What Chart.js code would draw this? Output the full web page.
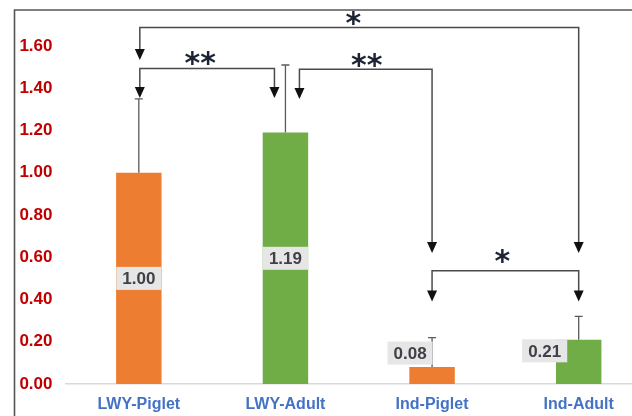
<!DOCTYPE html>
<html><head><meta charset="utf-8">
<script src="https://cdn.jsdelivr.net/npm/chart.js@4/dist/chart.umd.min.js"></script>
<style>html,body{margin:0;padding:0;background:#fff;overflow:hidden;width:632px;height:416px}canvas{display:block}</style>
</head><body><canvas id="c" width="652" height="416"></canvas>
<script>
// ---- data ----
const categories = ['LWY-Piglet', 'LWY-Adult', 'Ind-Piglet', 'Ind-Adult'];
const means = [1.00, 1.19, 0.08, 0.21];
const errors = [0.35, 0.32, 0.14, 0.11];
const valueLabels = ['1.00', '1.19', '0.08', '0.21'];
const barColors = ['#ED7D31', '#70AD47', '#ED7D31', '#70AD47'];
const yTickValues = [0, 0.2, 0.4, 0.6, 0.8, 1.0, 1.2, 1.4, 1.6];
// significance brackets (category index, level and arrow tips in value units)
const bracketLabels = ['*', '**', '**', '*'];
const bracketFrom = [0, 0, 1, 2];
const bracketTo = [3, 1, 2, 3];
const bracketLevel = [1.687, 1.494, 1.490, 0.536];
const bracketLeftTip = [1.534, 1.354, 1.349, 0.390];
const bracketRightTip = [0.620, 1.354, 0.620, 0.390];

// ---- styling (pixel offsets) ----
const legOffsetL = [1, 1, 14, 0];
const legOffsetR = [0, -11, 0, 0];
const starDx = [-6, -7, 1, -3];
const starAbove = [9.4, 10, 9, 14.7];
const labelOffsets = [[0, 0], [0, 0], [-22, -22.5], [-34, -11]];

const decor = {
  id: 'decor',
  afterDatasetsDraw(chart) {
    const ctx = chart.ctx;
    const meta = chart.getDatasetMeta(0);
    const ys = chart.scales.y, xs = chart.scales.x;
    ctx.save();
    // error bars (upper only)
    ctx.strokeStyle = '#5a5a5a';
    ctx.lineWidth = 1.3;
    meta.data.forEach((bar, i) => {
      const top = ys.getPixelForValue(means[i] + errors[i]);
      ctx.beginPath();
      ctx.moveTo(bar.x, bar.y);
      ctx.lineTo(bar.x, top);
      ctx.moveTo(bar.x - 4, top);
      ctx.lineTo(bar.x + 4, top);
      ctx.stroke();
    });
    // value labels
    ctx.font = 'bold 17px "Liberation Sans", Arial, sans-serif';
    ctx.textAlign = 'center';
    ctx.textBaseline = 'middle';
    meta.data.forEach((bar, i) => {
      const cx = bar.x + labelOffsets[i][0];
      const cy = (bar.y + bar.base) / 2 + labelOffsets[i][1];
      const w = ctx.measureText(valueLabels[i]).width + 12;
      const h = 23;
      ctx.fillStyle = '#E7E6E6';
      ctx.fillRect(cx - w / 2, cy - h / 2, w, h);
      ctx.fillStyle = '#404048';
      ctx.fillText(valueLabels[i], cx, cy + 1);
    });
    // brackets
    const arrow = (x, tipY) => {
      ctx.beginPath();
      ctx.moveTo(x - 5, tipY - 11);
      ctx.lineTo(x + 5, tipY - 11);
      ctx.lineTo(x, tipY);
      ctx.closePath();
      ctx.fill();
    };
    ctx.strokeStyle = '#4a4a4a';
    ctx.fillStyle = '#111';
    ctx.lineWidth = 1.5;
    for (let i = 0; i < bracketLabels.length; i++) {
      const xl = xs.getPixelForValue(bracketFrom[i]) + legOffsetL[i];
      const xr = xs.getPixelForValue(bracketTo[i]) + legOffsetR[i];
      const ly = ys.getPixelForValue(bracketLevel[i]);
      const tl = ys.getPixelForValue(bracketLeftTip[i]);
      const tr = ys.getPixelForValue(bracketRightTip[i]);
      ctx.beginPath();
      ctx.moveTo(xl, tl - 8);
      ctx.lineTo(xl, ly);
      ctx.lineTo(xr, ly);
      ctx.lineTo(xr, tr - 8);
      ctx.stroke();
      arrow(xl, tl);
      arrow(xr, tr);
      // asterisks
      ctx.font = 'bold 30px "DejaVu Sans", sans-serif';
      ctx.textAlign = 'center';
      ctx.textBaseline = 'alphabetic';
      const m = ctx.measureText(bracketLabels[i]);
      const cy = ly - starAbove[i];
      const base = cy + (m.actualBoundingBoxAscent - m.actualBoundingBoxDescent) / 2;
      ctx.fillStyle = '#1c2433';
      ctx.fillText(bracketLabels[i], (xl + xr) / 2 + starDx[i], base);
      ctx.fillStyle = '#111';
    }
    // frame
    ctx.strokeStyle = '#555';
    ctx.lineWidth = 1.6;
    ctx.beginPath();
    ctx.moveTo(14.5, 416);
    ctx.lineTo(14.5, 10);
    ctx.lineTo(652, 10);
    ctx.stroke();
    ctx.restore();
  }
};

new Chart(document.getElementById('c'), {
  type: 'bar',
  data: {
    labels: categories,
    datasets: [{
      data: means,
      backgroundColor: barColors,
      borderWidth: 0,
      barPercentage: 0.31,
      categoryPercentage: 1.0
    }]
  },
  options: {
    responsive: false,
    devicePixelRatio: 1,
    animation: false,
    layout: { padding: { top: 3.75, left: 0, right: 0, bottom: 0 } },
    plugins: { legend: { display: false }, tooltip: { enabled: false }, title: { display: false } },
    scales: {
      x: {
        offset: true,
        grid: { display: false, drawTicks: false },
        border: { display: true, color: '#d9d9d9', width: 1.5 },
        ticks: {
          color: '#4472C4',
          padding: 11,
          font: { family: '"Liberation Sans", Arial, sans-serif', weight: 'bold', size: 16 }
        },
        afterFit(s) { s.height = 32; s.paddingLeft = 0; s.paddingRight = 0; }
      },
      y: {
        min: 0,
        max: 1.8,
        grid: { display: false, drawTicks: false },
        border: { display: false },
        afterBuildTicks(s) { s.ticks = yTickValues.map(v => ({ value: v })); },
        ticks: {
          color: '#C00000',
          padding: 13,
          font: { family: '"Liberation Sans", Arial, sans-serif', weight: 'bold', size: 17 },
          callback: (v) => Number(v).toFixed(2)
        },
        afterFit(s) { s.width = 65.5; s.paddingTop = 0; s.paddingBottom = 0; }
      }
    }
  },
  plugins: [decor]
});
</script>
</body></html>
